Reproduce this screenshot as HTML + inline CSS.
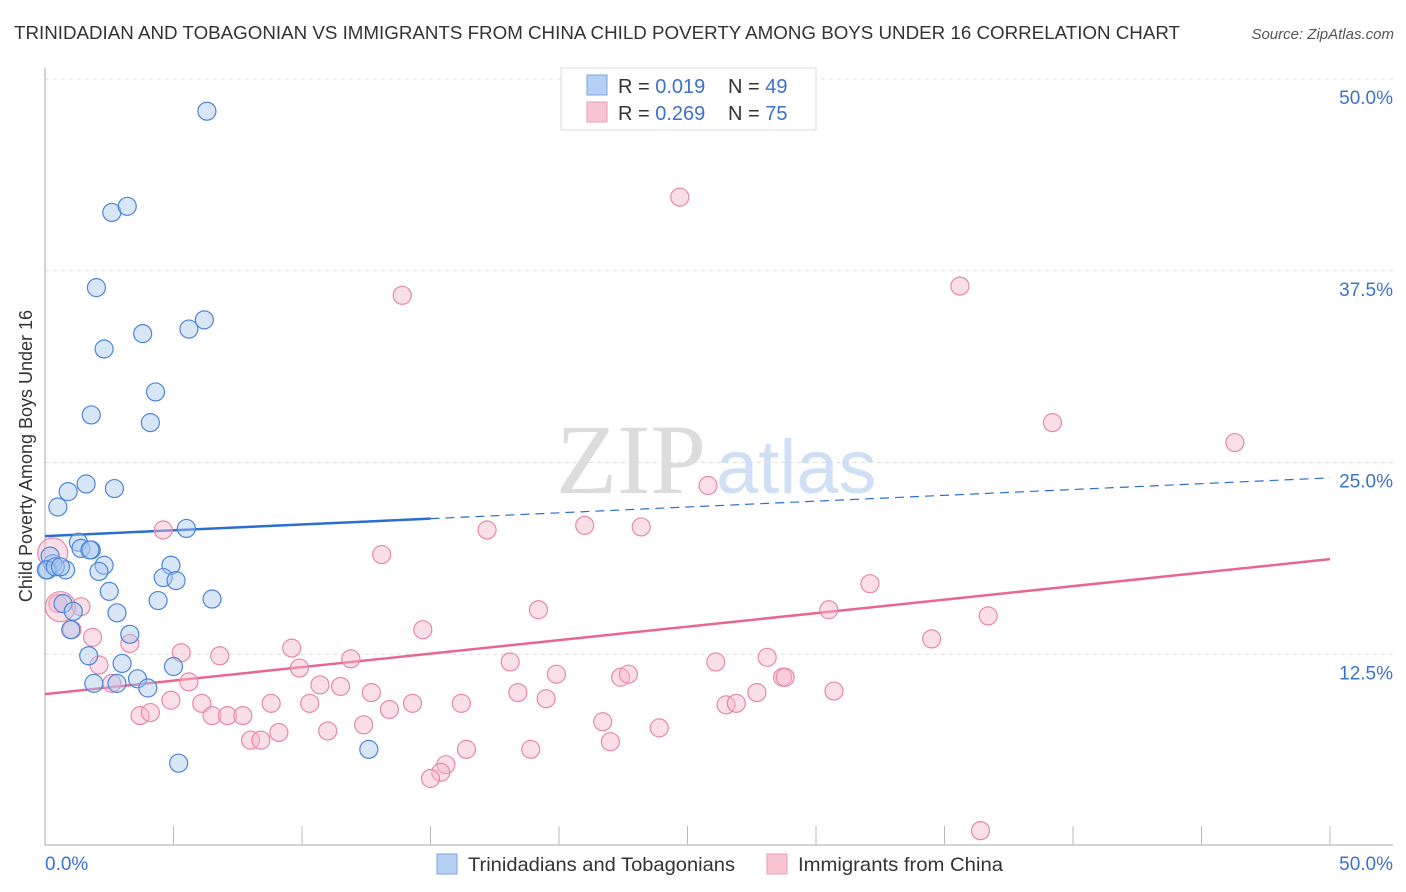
<!DOCTYPE html>
<html><head><meta charset="utf-8">
<style>
body{margin:0;background:#fff;font-family:"Liberation Sans",sans-serif;}
svg{display:block}
</style></head>
<body>
<svg id="chart" width="1406" height="892" xmlns="http://www.w3.org/2000/svg">
<text x="14" y="39" font-size="18" fill="#333" textLength="1166" lengthAdjust="spacingAndGlyphs">TRINIDADIAN AND TOBAGONIAN VS IMMIGRANTS FROM CHINA CHILD POVERTY AMONG BOYS UNDER 16 CORRELATION CHART</text>
<text x="1394" y="39" font-size="15" fill="#555" font-style="italic" text-anchor="end">Source: ZipAtlas.com</text>
<g id="grid"></g>
<text x="556" y="493" font-size="100" fill="#dcdcdc" font-family="Liberation Serif,serif">ZIP</text>
<text x="716" y="493" font-size="76" fill="#cfe0f4">atlas</text>
<g id="axes"></g>
<g id="lines"></g>
<g id="points"></g>
<text x="32" y="456" font-size="18" fill="#333" text-anchor="middle" transform="rotate(-90 32 456)">Child Poverty Among Boys Under 16</text>
<g>
<rect x="561" y="68" width="255" height="62" fill="#fff" stroke="#ddd"/>
<rect x="587" y="75" width="20" height="20" fill="#b6d0f3" stroke="#7aa5e0"/>
<rect x="587" y="102" width="20" height="20" fill="#f9c5d3" stroke="#ec9ab3"/>
<text x="618" y="93" font-size="20" fill="#333">R = <tspan fill="#3b73c9">0.019</tspan><tspan x="728">N = </tspan><tspan fill="#3b73c9">49</tspan></text>
<text x="618" y="120" font-size="20" fill="#333">R = <tspan fill="#3b73c9">0.269</tspan><tspan x="728">N = </tspan><tspan fill="#3b73c9">75</tspan></text>
</g>
<g>
<rect x="437" y="854" width="20" height="20" fill="#b6d0f3" stroke="#7aa5e0"/>
<text x="468" y="871" font-size="19.5" fill="#333" textLength="267" lengthAdjust="spacingAndGlyphs">Trinidadians and Tobagonians</text>
<rect x="767" y="854" width="20" height="20" fill="#f9c5d3" stroke="#ec9ab3"/>
<text x="798" y="871" font-size="19.5" fill="#333" textLength="205" lengthAdjust="spacingAndGlyphs">Immigrants from China</text>
</g>
</svg>
<script>
const yTicks=[12.5,25,37.5,50];
const yTickLabels=["12.5%","25.0%","37.5%","50.0%"];
const xLabels=["0.0%","50.0%"];
const blueX=[6.3,2.6,3.2,2.0,3.8,2.3,5.6,6.2,4.3,1.8,4.1,0.5,0.9,1.6,2.7,5.5,1.3,1.4,1.8,2.3,2.1,0.8,0.3,0.1,4.9,4.6,5.1,2.5,4.4,6.5,0.7,1.1,2.8,1.0,3.3,1.7,3.0,5.0,3.6,1.9,2.8,4.0,5.2,12.6,0.2,0.05,0.4,0.6,1.75];
const blueY=[47.9,41.3,41.7,36.4,33.4,32.4,33.7,34.3,29.6,28.1,27.6,22.1,23.1,23.6,23.3,20.7,19.8,19.4,19.3,18.3,17.9,18.0,18.4,18.0,18.3,17.5,17.3,16.6,16.0,16.1,15.8,15.3,15.2,14.1,13.8,12.4,11.9,11.7,10.9,10.6,10.6,10.3,5.4,6.3,18.9,18.0,18.2,18.2,19.3];
const pinkX=[24.7,13.9,35.6,39.2,46.3,25.8,17.2,21.0,23.2,4.6,13.1,32.1,19.2,30.5,36.7,14.7,34.5,9.6,3.3,5.3,6.8,9.9,11.9,18.1,19.9,22.4,22.7,26.1,28.1,28.7,28.8,10.7,11.5,5.6,12.7,18.4,19.5,27.7,30.7,4.9,6.1,8.8,10.3,14.3,16.2,26.5,26.9,13.4,6.5,7.1,7.7,3.7,4.1,12.4,11.0,21.7,23.9,8.0,8.4,9.1,16.4,18.9,22.0,15.6,15.4,15.0,36.4,2.1,2.6,0.5,1.4,1.05,1.85,0.3,0.6];
const pinkY=[42.3,35.9,36.5,27.6,26.3,23.5,20.6,20.9,20.8,20.6,19.0,17.1,15.4,15.4,15.0,14.1,13.5,12.9,13.2,12.6,12.4,11.6,12.2,12.0,11.2,11.0,11.2,12.0,12.3,11.0,11.0,10.5,10.4,10.7,10.0,10.0,9.6,10.0,10.1,9.5,9.3,9.3,9.3,9.3,9.3,9.2,9.3,8.9,8.5,8.5,8.5,8.5,8.7,7.9,7.5,8.1,7.7,6.9,6.9,7.4,6.3,6.3,6.8,5.3,4.8,4.4,1.0,11.8,10.6,15.8,15.6,14.1,13.6,19.1,15.6];
const blueFit=[20.2,0.076];
const pinkFit=[9.9,0.176];
const NS="http://www.w3.org/2000/svg";
const X0=45,X1=1330,Y0=846,Y50=79;
const sx=v=>X0+(X1-X0)*v/50;
const sy=v=>Y0-(Y0-Y50)*v/50;
function el(t,a,p){const e=document.createElementNS(NS,t);for(const k in a)e.setAttribute(k,a[k]);p.appendChild(e);return e;}
const grid=document.getElementById('grid'),axes=document.getElementById('axes'),lines=document.getElementById('lines'),pts=document.getElementById('points');
yTicks.forEach((t,i)=>{
 const g=el('line',{x1:X0,x2:1393,y1:sy(t),y2:sy(t),stroke:'#ddd','stroke-dasharray':'4,4'},grid);
 
 
 const l=el('text',{x:1393,y:sy(t)+25,'font-size':19,fill:'#3b73c9','text-anchor':'end'},axes);
 l.textContent=yTickLabels[i];
 
 
});
const ax=el('line',{x1:X0,x2:1393,y1:845,y2:845,stroke:'#aaa'},axes);


const ay=el('line',{x1:X0,x2:X0,y1:68,y2:845,stroke:'#aaa'},axes);


for(let i=1;i<=10;i++){
 const tk=el('line',{x1:sx(i*5),x2:sx(i*5),y1:826,y2:845,stroke:'#bbb'},axes);
 
 
}
[[0,'start',X0],[50,'end',1393]].forEach((d,i)=>{
 const t=el('text',{x:d[2],y:870,'font-size':19,fill:'#3b73c9','text-anchor':d[1]},axes);
 t.textContent=xLabels[i];
 
 
});
function dots(xs,ys,fill,stroke,name,bigFrom,bigR){
 xs.forEach((x,i)=>{
  const r=i>=bigFrom?bigR:9;
  const c=el('circle',{cx:sx(x),cy:sy(ys[i]),r:r,fill:fill,'fill-opacity':0.45,stroke:stroke,'stroke-width':1.2},pts);
  
  
 });
}
dots(pinkX,pinkY,'#f7b8cb','#e888a8','point-china',pinkX.length-2,15);
dots(blueX,blueY,'#a9c8f0','#4a86d8','point-trinidadian',blueX.length,9);
const bf=x=>blueFit[0]+blueFit[1]*x, pf=x=>pinkFit[0]+pinkFit[1]*x;
const b1=el('line',{x1:sx(0),y1:sy(bf(0)),x2:sx(15),y2:sy(bf(15)),stroke:'#2a6fd0','stroke-width':2.5},lines);


const b2=el('line',{x1:sx(15),y1:sy(bf(15)),x2:sx(50),y2:sy(bf(50)),stroke:'#2a6fd0','stroke-width':1.2,'stroke-dasharray':'9,6'},lines);


const p1=el('line',{x1:sx(0),y1:sy(pf(0)),x2:sx(50),y2:sy(pf(50)),stroke:'#e8678f','stroke-width':2.5},lines);


</script>
</body></html>
